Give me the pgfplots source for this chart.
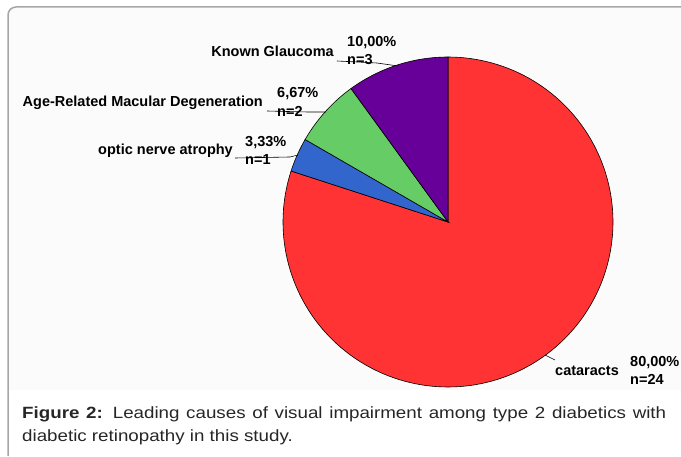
\documentclass[border=0pt]{standalone}
\usepackage{pgfplots}
\pgfplotsset{compat=1.18}
\usepackage{fontspec}
\setmainfont{Liberation Sans}
\newfontfamily\capfont[FakeStretch=1.15]{Liberation Sans}
\definecolor{pieRed}{HTML}{FF3333}
\definecolor{pieBlue}{HTML}{3366CC}
\definecolor{pieGreen}{HTML}{66CC66}
\definecolor{piePurple}{HTML}{660099}
\definecolor{frameGray}{HTML}{A6A6A6}
\newcommand{\lab}{\fontsize{14.5}{16}\selectfont\bfseries}
\begin{document}
\begin{tikzpicture}
\begin{axis}[
  at={(0,0)}, anchor=south west,
  scale only axis, width=681pt, height=456pt,
  xmin=0, xmax=681, ymin=0, ymax=456,
  axis lines=none, clip=false,
]
% background and frame
\fill[black!1.5] (axis cs:9,66) rectangle (axis cs:681,448);
\draw[frameGray, line width=1.5pt, rounded corners=8pt] (axis cs:8,0) -- (axis cs:8,449) -- (axis cs:690,449);
% pie: n = 24 (cataracts), 1 (optic nerve atrophy), 2 (AMD), 3 (known glaucoma); 12 degrees per case
\addplot[fill=pieRed, draw=black, line width=0.6pt, domain=-198:90, samples=150, variable=\t] ({448+165*cos(\t)}, {234+165*sin(\t)}) -- (axis cs:448,234) -- cycle;
\addplot[fill=pieBlue, draw=black, line width=0.6pt, domain=-210:-198, samples=10, variable=\t] ({448+165*cos(\t)}, {234+165*sin(\t)}) -- (axis cs:448,234) -- cycle;
\addplot[fill=pieGreen, draw=black, line width=0.6pt, domain=-234:-210, samples=15, variable=\t] ({448+165*cos(\t)}, {234+165*sin(\t)}) -- (axis cs:448,234) -- cycle;
\addplot[fill=piePurple, draw=black, line width=0.6pt, domain=-270:-234, samples=25, variable=\t] ({448+165*cos(\t)}, {234+165*sin(\t)}) -- (axis cs:448,234) -- cycle;
% leaders
\draw[black, line width=0.6pt] (axis cs:337,395) -- (axis cs:377,393) -- (axis cs:398,390);
\draw[black, line width=0.6pt] (axis cs:267,345) -- (axis cs:308,344) -- (axis cs:326,344);
\draw[black, line width=0.6pt] (axis cs:235,298) -- (axis cs:290,299) -- (axis cs:298,301);
\draw[black, line width=0.6pt] (axis cs:545,101) -- (axis cs:555,96);
% labels
\node[anchor=base east, inner sep=0] at (axis cs:334,399) {\lab Known Glaucoma};
\node[anchor=base west, inner sep=0] at (axis cs:347,409) {\lab 10,00\%};
\node[anchor=base west, inner sep=0] at (axis cs:347,391) {\lab n=3};
\node[anchor=base east, inner sep=0] at (axis cs:263,349) {\lab Age-Related Macular Degeneration};
\node[anchor=base west, inner sep=0] at (axis cs:277,358) {\lab 6,67\%};
\node[anchor=base west, inner sep=0] at (axis cs:277,339) {\lab n=2};
\node[anchor=base east, inner sep=0] at (axis cs:233,301) {\lab optic nerve atrophy};
\node[anchor=base west, inner sep=0] at (axis cs:245,309) {\lab 3,33\%};
\node[anchor=base west, inner sep=0] at (axis cs:245,291) {\lab n=1};
\node[anchor=base west, inner sep=0] at (axis cs:555,81) {\lab cataracts};
\node[anchor=base west, inner sep=0] at (axis cs:630,89) {\lab 80,00\%};
\node[anchor=base west, inner sep=0] at (axis cs:630,71) {\lab n=24};
% caption
\node[anchor=north west, inner sep=0, text width=644pt, align=justify, text=black!85,
  font=\capfont\fontsize{16.3}{23}\selectfont] at (axis cs:22,50)
  {\textbf{Figure 2:} Leading causes of visual impairment among type 2 diabetics with diabetic retinopathy in this study.};
\end{axis}
\pgfresetboundingbox
\useasboundingbox (0,0) rectangle (681pt,456pt);
\end{tikzpicture}
\end{document}
